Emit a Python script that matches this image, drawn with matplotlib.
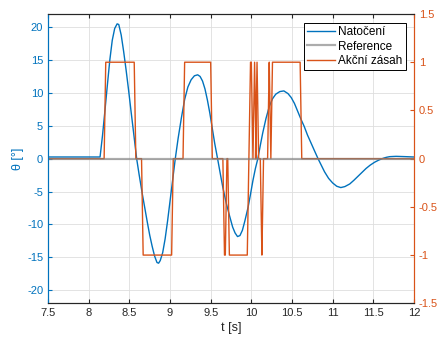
import numpy as np
import matplotlib.pyplot as plt
from matplotlib.ticker import FuncFormatter

plt.rcParams['font.family'] = ['Liberation Sans', 'DejaVu Sans']
plt.rcParams['font.size'] = 8
plt.rcParams['axes.unicode_minus'] = False

BLUE = (0.0, 0.447, 0.741)
ORANGE = (0.851, 0.325, 0.098)
DARK = (0.15, 0.15, 0.15)

# Natočení
t_theta = [7.5, 8.14, 8.17, 8.20, 8.23, 8.26, 8.29, 8.32, 8.35, 8.37, 8.40,
           8.43, 8.46, 8.49, 8.52, 8.55, 8.59, 8.62, 8.66, 8.69, 8.72, 8.75,
           8.78, 8.81, 8.84, 8.86, 8.88, 8.91, 8.94, 8.97, 9.00, 9.03, 9.065,
           9.10, 9.14, 9.18, 9.22, 9.26, 9.30, 9.34, 9.37, 9.40, 9.43, 9.46,
           9.49, 9.52, 9.55, 9.585, 9.62, 9.65, 9.69, 9.73, 9.77, 9.80, 9.83,
           9.86, 9.89, 9.92, 9.96, 9.99, 10.02, 10.05, 10.08, 10.11, 10.14,
           10.18, 10.22, 10.26, 10.30, 10.35, 10.40, 10.45, 10.49, 10.53,
           10.57, 10.61, 10.65, 10.69, 10.735, 10.78, 10.82, 10.86, 10.90,
           10.95, 11.0, 11.05, 11.10, 11.15, 11.21, 11.26, 11.31, 11.36,
           11.41, 11.46, 11.515, 11.57, 11.62, 11.66, 11.70, 11.78, 11.90, 12.0]
theta = [0.25, 0.25, 3.5, 7.3, 11.2, 15.0, 18.0, 19.8, 20.5, 20.4, 18.8,
         16.3, 13.5, 10.5, 7.3, 4.2, 0.0, -2.4, -5.4, -7.5, -9.6, -11.6,
         -13.3, -14.8, -15.8, -15.9, -15.5, -14.3, -12.2, -9.5, -6.5, -3.5, 0.0,
         3.1, 6.2, 9.0, 10.9, 12.0, 12.6, 12.75, 12.5, 11.8, 10.6, 8.9,
         6.9, 4.6, 2.3, 0.0, -2.4, -4.4, -6.7, -8.6, -10.4, -11.3, -11.85,
         -11.7, -10.9, -9.5, -7.4, -5.4, -3.3, -1.5, 0.0, 2.0, 3.9,
         6.1, 7.9, 9.1, 9.8, 10.2, 10.3, 9.9, 9.3, 8.4,
         7.2, 6.0, 4.9, 3.6, 2.35, 1.1, 0.0, -1.0, -2.0,
         -3.0, -3.7, -4.2, -4.4, -4.25, -3.85, -3.3, -2.7, -2.1,
         -1.5, -1.0, -0.55, -0.2, 0.05, 0.2, 0.3, 0.35, 0.3, 0.25]

# Akční zásah - okamžiky přepnutí a nové hodnoty
switch_t = [8.19, 8.56, 8.65, 9.02, 9.16, 9.50, 9.65, 9.68, 9.71, 9.95, 9.97,
            10.00, 10.02, 10.04, 10.05, 10.07, 10.11, 10.13, 10.20, 10.22,
            10.24, 10.60]
switch_u = [1, 0, -1, 0, 1, 0, -1, 0, -1, 0, 1,
            0, 1, 0, 1, 0, -1, 0, 1, 0,
            1, 0]
ramp = 0.02  # vzorkovaci perioda

t_ref = [7.5, 12.0]
ref = [0, 0]

act_t = [7.5]
act_u = [0]
for ts, u in zip(switch_t, switch_u):
    act_t += [ts, ts + ramp]
    act_u += [act_u[-1], u]
act_t.append(12.0)
act_u.append(act_u[-1])

fig = plt.figure(figsize=(4.38, 3.38), dpi=100)
ax = fig.add_axes([0.1096, 0.1027, 0.8356, 0.8559])
ax2 = ax.twinx()

h1, = ax.plot(t_theta, theta, color=BLUE, lw=1.0)
h3, = ax2.plot(act_t, act_u, color=ORANGE, lw=1.0)
h2, = ax2.plot(t_ref, ref, color=(0.5, 0.5, 0.5), lw=1.6, alpha=0.65)

ax.set_xlim(7.5, 12)
ax.set_ylim(-22, 22)
ax2.set_ylim(-1.5, 1.5)
ax.set_xticks(np.arange(7.5, 12.01, 0.5))
ax.set_yticks(np.arange(-20, 21, 5))
ax2.set_yticks(np.arange(-1.5, 1.51, 0.5))
fmt = FuncFormatter(lambda v, p: '%g' % v)
ax.xaxis.set_major_formatter(fmt)
ax2.yaxis.set_major_formatter(fmt)

ax.grid(True, color=(0.87, 0.87, 0.87), lw=0.6)
ax.set_axisbelow(True)

ax.tick_params(axis='x', direction='in', length=3, colors=DARK, top=True)
ax.tick_params(axis='y', direction='in', length=3, colors=BLUE)
ax2.tick_params(axis='y', direction='in', length=3, colors=ORANGE)

for a in (ax, ax2):
    a.spines['top'].set_color(DARK)
    a.spines['bottom'].set_color(DARK)
    a.spines['left'].set_color(BLUE)
    a.spines['right'].set_color(ORANGE)

ax.set_xlabel('t [s]', color=DARK, fontsize=9, labelpad=3)
ax.set_ylabel('θ [°]', color=BLUE, fontsize=9, labelpad=2)

leg = ax2.legend([h1, h2, h3], ['Natočení', 'Reference', 'Akční zásah'],
                 loc='upper right', bbox_to_anchor=(0.977, 0.970),
                 fancybox=False, framealpha=1, edgecolor='black',
                 handlelength=2.4, borderpad=0.3, labelspacing=0.2,
                 handletextpad=0.2, borderaxespad=0, fontsize=8.5)
leg.get_frame().set_linewidth(0.7)

fig.savefig('out.png', dpi=100)
